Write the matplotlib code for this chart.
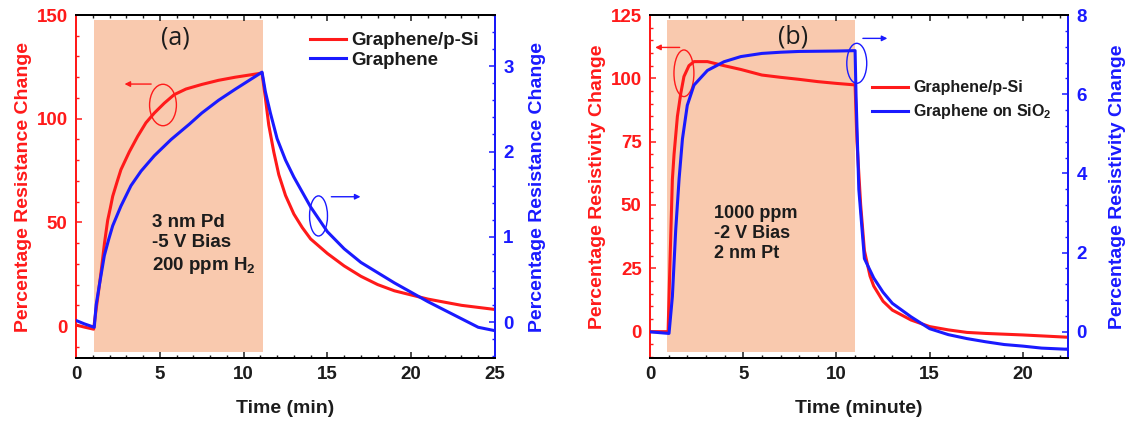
import matplotlib
matplotlib.use("Agg")
import matplotlib.pyplot as plt
from matplotlib.patches import Ellipse
from matplotlib.ticker import MultipleLocator

plt.rcParams['font.family'] = ['Liberation Sans', 'DejaVu Sans']
plt.rcParams['mathtext.fontset'] = 'custom'
plt.rcParams['mathtext.rm'] = 'Liberation Sans:bold'
plt.rcParams['mathtext.default'] = 'rm'

RED = '#ff1a1a'
BLUE = '#1a1aff'
SHADE = '#f9c9ae'
INK = '#1c1c1c'

# ---- panel (a) data ----
t_a_red = [0, 0.5, 1.05, 1.2, 1.35, 1.49, 1.7, 1.89, 2.05, 2.19, 2.45, 2.68, 3.18, 3.68, 4.17,
           4.67, 5.27, 5.86, 6.56, 7.5, 8.5, 9.5, 10.3, 11.1, 11.3, 11.5, 11.8, 12.1, 12.5,
           13.0, 13.5, 14.0, 15.0, 16.0, 17.0, 18.0, 19.0, 20.0, 21.0, 22.0, 23.0, 24.0, 25.0]
r_a_red = [0.5, -0.5, -1.5, 8, 17, 25.7, 40, 51, 57, 62.6, 69.5, 75.4, 84, 91.5, 98,
           102.7, 107.5, 111.6, 114.3, 116.5, 118.5, 120, 121, 122, 110, 97, 84, 73, 63,
           54, 47.5, 42, 35, 29, 24, 20, 17, 15, 13, 11.5, 10, 9, 8]
t_a_blue = [0, 0.5, 1.09, 1.2, 1.39, 1.69, 1.95, 2.19, 2.68, 3.28, 3.88, 4.67, 5.67, 6.76, 7.5,
            8.5, 9.5, 10.3, 11.1, 11.3, 11.6, 12.0, 12.5, 13.0, 14.0, 15.0, 16.0, 17.0,
            18.0, 19.0, 20.0, 21.0, 22.0, 23.0, 24.0, 25.0]
r_a_blue = [0.02, -0.02, -0.06, 0.2, 0.43, 0.78, 0.97, 1.13, 1.36, 1.6, 1.77, 1.95, 2.14, 2.32,
            2.45, 2.6, 2.73, 2.83, 2.93, 2.7, 2.45, 2.15, 1.9, 1.7, 1.35, 1.06, 0.86, 0.7,
            0.58, 0.46, 0.35, 0.24, 0.14, 0.04, -0.06, -0.1]

# ---- panel (b) data ----
t_b_red = [0, 0.97, 1.07, 1.2, 1.29, 1.47, 1.65, 1.82, 2.09, 2.36, 3.08, 3.97, 4.87, 6.0,
           7.0, 8.0, 9.0, 10.0, 11.0, 11.1, 11.3, 11.5, 11.8, 12.0, 12.5, 13.0, 14.0, 15.0,
           16.0, 17.0, 18.0, 20.0, 22.4]
r_b_red = [0, 0, 27, 60, 70, 85, 94, 100.7, 105, 106.6, 106.6, 105, 103.5, 101.3,
           100.4, 99.6, 98.7, 98, 97.4, 75, 50, 32, 22, 18, 12, 8.5, 4.6, 2,
           0.7, -0.3, -0.7, -1.3, -2.2]
t_b_blue = [0, 1.02, 1.2, 1.38, 1.56, 1.74, 2.0, 2.36, 3.08, 3.97, 4.87, 6.0, 7.0, 8.0,
            10.0, 11.0, 11.05, 11.2, 11.5, 12.0, 12.5, 13.0, 14.0, 15.0, 16.0, 17.0,
            18.0, 19.0, 20.0, 21.0, 22.4]
r_b_blue = [0, -0.04, 0.89, 2.58, 3.86, 4.87, 5.72, 6.23, 6.6, 6.82, 6.95, 7.03, 7.06, 7.08,
            7.09, 7.1, 6.0, 3.6, 1.85, 1.36, 1.0, 0.72, 0.38, 0.08, -0.07, -0.17,
            -0.25, -0.32, -0.36, -0.41, -0.44]

fig = plt.figure(figsize=(11.28, 4.22), dpi=100)


def style_axes(ax, ax2, xlim, ylim, y2lim, xstep, ystep, y2step):
    ax.set_xlim(*xlim)
    ax.set_ylim(*ylim)
    ax2.set_ylim(*y2lim)
    ax.xaxis.set_major_locator(MultipleLocator(xstep[0]))
    ax.xaxis.set_minor_locator(MultipleLocator(xstep[1]))
    ax.yaxis.set_major_locator(MultipleLocator(ystep[0]))
    ax.yaxis.set_minor_locator(MultipleLocator(ystep[1]))
    ax2.yaxis.set_major_locator(MultipleLocator(y2step[0]))
    ax2.yaxis.set_minor_locator(MultipleLocator(y2step[1]))
    for a in (ax, ax2):
        for s in a.spines.values():
            s.set_linewidth(1.4)
    ax.spines['left'].set_color(RED)
    ax2.spines['right'].set_color(BLUE)
    ax2.spines['left'].set_color(RED)
    ax.tick_params(axis='x', which='both', direction='in', top=True, colors=INK,
                   labelsize=13.5, pad=6)
    ax.tick_params(axis='y', which='both', direction='in', colors=RED, labelsize=13.5, pad=6)
    ax2.tick_params(axis='y', which='both', direction='in', colors=BLUE, labelsize=13.5, pad=6)
    for a in (ax, ax2):
        a.tick_params(which='major', length=4.5, width=1.1)
        a.tick_params(which='minor', length=2.5, width=1.0)
        for lab in a.get_xticklabels() + a.get_yticklabels():
            lab.set_fontweight('bold')


# ================= panel (a) =================
ax = fig.add_axes([76 / 1128, 64 / 422, 419 / 1128, 343 / 422])
ax2 = ax.twinx()
ax.axvspan(1.07, 11.15, ymin=0.0175, ymax=0.985, color=SHADE, lw=0, zorder=0)
la, = ax.plot(t_a_red, r_a_red, color=RED, lw=2.2, zorder=3)
lb, = ax2.plot(t_a_blue, r_a_blue, color=BLUE, lw=2.2, zorder=3)
style_axes(ax, ax2, (0, 25), (-15.4, 150), (-0.42, 3.6), (5, 1), (50, 10), (1, 0.2))
ax.set_xlabel('Time (min)', fontsize=14, fontweight='bold', color=INK, labelpad=12)
ax.set_ylabel('Percentage Resistance Change', fontsize=14, fontweight='bold', color=RED,
              labelpad=3)
ax2.set_ylabel('Percentage Resistance Change', fontsize=14, fontweight='bold', color=BLUE,
               labelpad=11)

ax.add_patch(Ellipse((5.19, 106.6), 1.6, 20, fill=False, ec=RED, lw=1, zorder=4))
ax.annotate('', xy=(2.73, 116.7), xytext=(4.65, 116.7),
            arrowprops=dict(arrowstyle='-|>', color=RED, lw=1, mutation_scale=8))
ax2.add_patch(Ellipse((14.47, 1.245), 1.07, 0.47, fill=False, ec=BLUE, lw=1, zorder=4))
ax2.annotate('', xy=(17.14, 1.47), xytext=(15.07, 1.47),
             arrowprops=dict(arrowstyle='-|>', color=BLUE, lw=1, mutation_scale=8))

ax.text(5.93, 138.7, '(a)', fontsize=18, color=INK, ha='center', va='center',
        family=['Open Sans', 'DejaVu Sans'])
ax.text(4.55, 39, '3 nm Pd\n-5 V Bias\n200 ppm H$_2$', fontsize=13.5, fontweight='bold',
        color=INK, ha='left', va='center', linespacing=1.25)
ax.legend([la, lb], ['Graphene/p-Si', 'Graphene'], loc='upper left',
          bbox_to_anchor=(0.558, 0.95), frameon=False, prop=dict(size=13.5, weight='bold'),
          handlelength=1.95, handletextpad=0.25, labelspacing=0.12, borderpad=0,
          borderaxespad=0, labelcolor=INK)

# ================= panel (b) =================
bx = fig.add_axes([650 / 1128, 64 / 422, 418 / 1128, 343 / 422])
bx2 = bx.twinx()
bx.axvspan(0.93, 11.02, ymin=0.0175, ymax=0.985, color=SHADE, lw=0, zorder=0)
lc, = bx.plot(t_b_red, r_b_red, color=RED, lw=2.2, zorder=3)
ld, = bx2.plot(t_b_blue, r_b_blue, color=BLUE, lw=2.2, zorder=3)
style_axes(bx, bx2, (0, 22.42), (-10.4, 125), (-0.66, 8), (5, 1), (25, 5), (2, 0.4))
bx.set_xlabel('Time (minute)', fontsize=14, fontweight='bold', color=INK, labelpad=12)
bx.set_ylabel('Percentage Resistivity Change', fontsize=14, fontweight='bold', color=RED,
              labelpad=3)
bx2.set_ylabel('Percentage Resistivity Change', fontsize=14, fontweight='bold', color=BLUE,
               labelpad=16)

bx.add_patch(Ellipse((1.82, 102), 1.07, 18.4, fill=False, ec=RED, lw=1, zorder=4))
bx.annotate('', xy=(0.13, 112.2), xytext=(1.74, 112.2),
            arrowprops=dict(arrowstyle='-|>', color=RED, lw=1, mutation_scale=8))
bx2.add_patch(Ellipse((11.09, 6.78), 1.07, 1.01, fill=False, ec=BLUE, lw=1, zorder=4))
bx2.annotate('', xy=(12.88, 7.41), xytext=(11.27, 7.41),
             arrowprops=dict(arrowstyle='-|>', color=BLUE, lw=1, mutation_scale=8))

bx.text(7.7, 116.5, '(b)', fontsize=18, color=INK, ha='center', va='center',
        family=['Open Sans', 'DejaVu Sans'])
bx.text(3.45, 38.8, '1000 ppm\n-2 V Bias\n2 nm Pt', fontsize=13, fontweight='bold',
        color=INK, ha='left', va='center', linespacing=1.25)
bx.legend([lc, ld], ['Graphene/p-Si', 'Graphene on SiO$_2$'], loc='upper left',
          bbox_to_anchor=(0.53, 0.81), frameon=False, prop=dict(size=11.5, weight='bold'),
          handlelength=2.3, handletextpad=0.3, labelspacing=0.45, borderpad=0,
          borderaxespad=0, labelcolor=INK)

fig.savefig('out.png', dpi=100)
